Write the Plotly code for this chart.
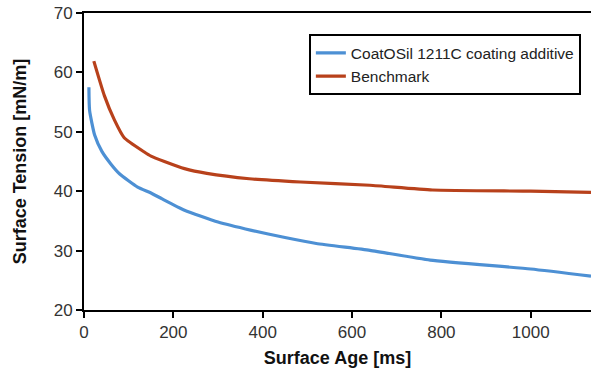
import plotly.graph_objects as go

series_names = ["CoatOSil 1211C coating additive", "Benchmark"]

blue_age = [11, 12.5, 24, 40, 60, 80, 120, 150, 175, 225, 300, 375, 450, 520, 640, 775, 1000, 1135]
blue_tension = [57.5, 53.6, 49.4, 46.7, 44.6, 42.9, 40.7, 39.7, 38.7, 36.8, 34.8, 33.4, 32.2, 31.2, 30.05, 28.4, 26.9, 25.7]

red_age = [22, 46, 68, 90, 135, 150, 180, 225, 275, 370, 485, 640, 780, 1000, 1135]
red_tension = [61.9, 56.0, 52.0, 49.0, 46.6, 45.9, 45.0, 43.8, 43.0, 42.1, 41.55, 41.0, 40.2, 40.0, 39.8]

x_ticks = [0, 200, 400, 600, 800, 1000]
y_ticks = [20, 30, 40, 50, 60, 70]

fig = go.Figure()
fig.add_trace(go.Scatter(x=blue_age, y=blue_tension, mode="lines", name=series_names[0],
                         line=dict(color="#4d90d4", width=3.2, shape="spline", smoothing=0.5)))
fig.add_trace(go.Scatter(x=red_age, y=red_tension, mode="lines", name=series_names[1],
                         line=dict(color="#b8411b", width=3.2, shape="spline", smoothing=0.5)))

fig.update_layout(
    width=591, height=368,
    margin=dict(l=84, r=0, t=13, b=58, autoexpand=False),
    plot_bgcolor="white", paper_bgcolor="white",
    font=dict(family="Liberation Sans, Arial, sans-serif", color="#222"),
    showlegend=True,
    legend=dict(x=0.98, y=0.928, xanchor="right", yanchor="top",
                bordercolor="black", borderwidth=2, bgcolor="white",
                font=dict(size=15.5, color="#222"), tracegroupgap=0),
    xaxis=dict(range=[0, 1135], tickvals=x_ticks, showgrid=False, zeroline=False, automargin=False,
               showline=True, linecolor="black", linewidth=2, mirror=True,
               ticks="outside", ticklen=6, tickwidth=2, tickcolor="black",
               ticklabeloverflow="allow",
               tickfont=dict(size=17, color="#333"),
               title=dict(text="<b>Surface Age [ms]</b>", font=dict(size=18, color="#111"), standoff=12)),
    yaxis=dict(range=[20, 70], tickvals=y_ticks, showgrid=False, zeroline=False, automargin=False,
               showline=True, linecolor="black", linewidth=2, mirror=False,
               ticks="outside", ticklen=6, tickwidth=2, tickcolor="black",
               ticklabeloverflow="allow",
               tickfont=dict(size=17, color="#333"),
               title=dict(text="<b>Surface Tension [mN/m]</b>", font=dict(size=18, color="#111"), standoff=22)),
)

fig.write_html("out.html",
               config={"displayModeBar": False},
               post_script="document.body.style.margin='0';document.body.style.overflow='hidden';")
